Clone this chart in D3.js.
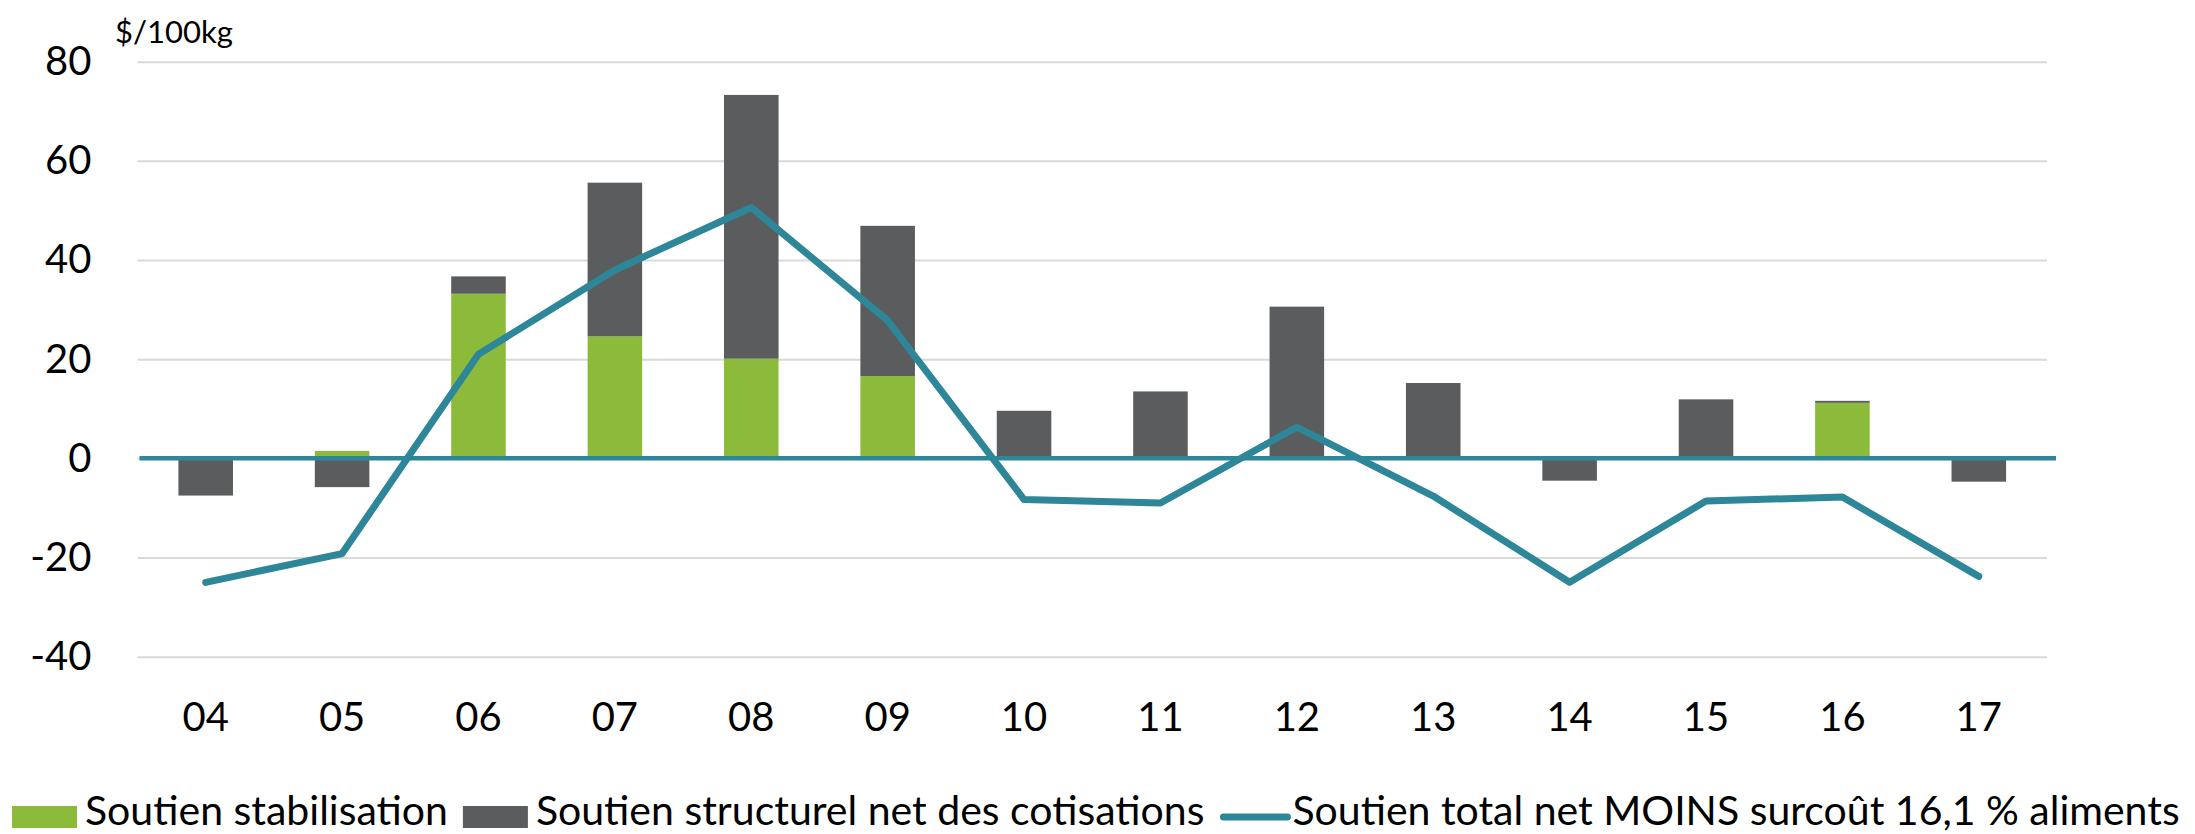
<!DOCTYPE html>
<html>
<head>
<meta charset="utf-8">
<script src="https://cdn.jsdelivr.net/npm/d3@7"></script>
<style>
  body { margin: 0; background: #fff; }
  text { font-family: Lato, "Open Sans", sans-serif; fill: #000; }
</style>
</head>
<body>
<svg id="chart" width="2195" height="834"></svg>
<script>
const years = ['04', '05', '06', '07', '08', '09', '10', '11', '12', '13', '14', '15', '16', '17'];
const stabilisation = [0, 1.5, 33.2, 24.6, 20.1, 16.6, 0, 0, 0, 0, 0, 0, 11.2, 0];
const structurel = [-7.5, -5.8, 3.5, 31, 53.2, 30.3, 9.6, 13.5, 30.6, 15.2, -4.5, 11.9, 0.4, -4.7];
const totalNet = [-25, -19.2, 21, 38, 50.6, 27.8, -8.3, -9, 6.3, -7.6, -25, -8.6, -7.8, -23.8];
const yTicks = [-40, -20, 0, 20, 40, 60, 80];
const seriesNames = ['Soutien stabilisation', 'Soutien structurel net des cotisations', 'Soutien total net MOINS surcoût 16,1 % aliments'];

const green = '#8cbb3c', grey = '#5a5c5d', teal = '#2e8699';

const svg = d3.select('#chart');
const plotLeft = 137.5, plotRight = 2047, plotTop = 61.7, plotBottom = 656.7;

const x = d3.scaleBand().domain(years).range([plotLeft, plotRight]).paddingInner(0.6).paddingOuter(0.3);
const y = d3.scaleLinear().domain([-40, 80]).range([plotBottom, plotTop]);

// gridlines
svg.append('g')
  .attr('transform', `translate(${plotLeft},0)`)
  .call(d3.axisLeft(y).tickValues(yTicks).tickSize(-(plotRight - plotLeft)).tickFormat(''))
  .call(g => g.select('.domain').remove())
  .call(g => g.selectAll('line').attr('stroke', '#d9d9d9').attr('stroke-width', 2));

// y labels (plain hyphen like the original)
svg.append('g')
  .attr('transform', `translate(${plotLeft},0)`)
  .call(d3.axisLeft(y).tickValues(yTicks).tickSize(0).tickPadding(46).tickFormat(d => String(d)))
  .call(g => g.select('.domain').remove())
  .call(g => g.selectAll('text').style('font-size', '40px'));

// x labels
svg.append('g')
  .attr('transform', `translate(0,${plotBottom})`)
  .call(d3.axisBottom(x).tickSize(0).tickPadding(46))
  .call(g => g.select('.domain').remove())
  .call(g => g.selectAll('text').style('font-size', '40px'));

svg.append('text').attr('x', 115).attr('y', 43).style('font-size', '31px').text('$/100kg');

// stacked bars
const rows = years.map((yr, i) => ({year: yr, stab: stabilisation[i], struct: structurel[i]}));
const stacked = d3.stack().keys(['stab', 'struct']).offset(d3.stackOffsetDiverging)(rows);
const colors = {stab: green, struct: grey};

svg.append('g').selectAll('g')
  .data(stacked)
  .join('g')
  .attr('fill', d => colors[d.key])
  .selectAll('rect')
  .data(d => d)
  .join('rect')
  .attr('x', d => x(d.data.year))
  .attr('width', x.bandwidth())
  .attr('y', d => y(Math.max(d[0], d[1])))
  .attr('height', d => Math.abs(y(d[0]) - y(d[1])));

// zero axis line
svg.append('line')
  .attr('x1', plotLeft + 2).attr('x2', plotRight + 9)
  .attr('y1', y(0)).attr('y2', y(0))
  .attr('stroke', teal).attr('stroke-width', 4.5);

// total line
const line = d3.line().x((d, i) => x(years[i]) + x.bandwidth() / 2).y(d => y(d));
svg.append('path')
  .attr('d', line(totalNet))
  .attr('fill', 'none')
  .attr('stroke', teal)
  .attr('stroke-width', 7)
  .attr('stroke-linejoin', 'round')
  .attr('stroke-linecap', 'round');

// legend
const legend = svg.append('g').attr('transform', 'translate(12,817)');
let lx = 0;
seriesNames.forEach((name, i) => {
  const item = legend.append('g').attr('transform', `translate(${lx},0)`);
  if (i < 2) {
    item.append('rect').attr('x', 0).attr('y', -11).attr('width', 65).attr('height', 22)
      .attr('fill', i === 0 ? green : grey);
  } else {
    item.append('line').attr('x1', 4).attr('x2', 68).attr('y1', 0).attr('y2', 0)
      .attr('stroke', teal).attr('stroke-width', 7).attr('stroke-linecap', 'round');
  }
  const t = item.append('text').attr('x', 73).attr('y', 8).style('font-size', '41px').text(name);
  lx += 73 + t.node().getComputedTextLength() + 15;
});
</script>
</body>
</html>
